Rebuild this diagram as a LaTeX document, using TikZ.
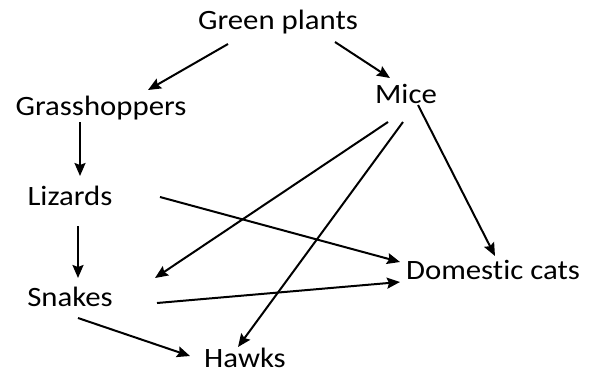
\documentclass[tikz,border=0pt]{standalone}
\usepackage{fontspec}
\setmainfont[Ligatures=NoCommon]{Carlito}
\usetikzlibrary{arrows.meta,calc}
\newcommand{\wide}[1]{\scalebox{1.1}[1]{#1}}
\begin{document}
\begin{tikzpicture}[x=1pt,y=-1pt,
  lbl/.style={inner sep=0pt,font=\fontsize{28}{30}\selectfont},
  arr/.style={line width=2pt,-{Stealth[length=13pt,width=11pt,inset=2pt]}}]
\useasboundingbox (0,0) rectangle (600,373);
\node[lbl] (gp) at (278,22) {\wide{Green plants}};
\node[lbl] (gh) at (101,108) {\wide{Grasshoppers}};
\node[lbl] (mi) at (406,94) {\wide{Mice}};
\node[lbl] (li) at (70,196) {\wide{Lizards}};
\node[lbl] (sn) at (70,297) {\wide{Snakes}};
\node[lbl] (ha) at (245,358) {\wide{Hawks}};
\node[lbl] (dc) at (493,270) {\wide{Domestic cats}};
\draw[arr] ($(gp)+(-50,22)$) -- ($(gh)+(47,-18)$);
\draw[arr] ($(gp)+(57,20)$) -- ($(mi)+(-16,-16)$);
\draw[arr] ($(gh)+(-21,14)$) -- ($(li)+(10,-20)$);
\draw[arr] ($(li)+(8,30)$) -- ($(sn)+(8,-19)$);
\draw[arr] ($(mi)+(-18,28)$) -- ($(sn)+(85,-19)$);
\draw[arr] ($(mi)+(-3,28)$) -- ($(ha)+(-7,-11)$);
\draw[arr] ($(mi)+(12,11)$) -- ($(dc)+(2,-14)$);
\draw[arr] ($(li)+(90,1)$) -- ($(dc)+(-93,-8)$);
\draw[arr] ($(sn)+(87,6)$) -- ($(dc)+(-93,12)$);
\draw[arr] ($(sn)+(8,21)$) -- ($(ha)+(-55,-2)$);
\end{tikzpicture}
\end{document}
